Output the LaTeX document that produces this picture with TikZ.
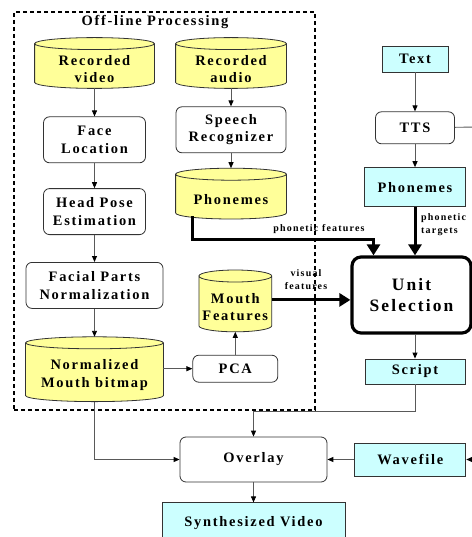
\documentclass[tikz,border=0pt]{standalone}
\usepackage{fontspec}
\usetikzlibrary{arrows.meta, positioning, calc}
\newfontfamily\diafont[LetterSpace=12]{Liberation Serif}
\definecolor{dbyellow}{RGB}{255,255,153}
\definecolor{iocyan}{RGB}{204,255,255}
\pgfdeclarelayer{background}
\pgfsetlayers{background,main}
\tikzset{
    base/.style={draw=black!80, line width=0.8bp, align=center, inner sep=0pt, font=\diafont\bfseries\fontsize{14.5}{17.5}\selectfont},
    proc/.style={base, rounded corners=6bp, fill=white},
    io/.style={base, fill=iocyan},
    store/.style={base, draw=none},
    cylline/.style={draw=black!80, line width=0.8bp},
    arr/.style={draw=black!65, line width=0.9bp, -{Triangle[length=6bp,width=5bp,color=black]}},
    link/.style={draw=black!65, line width=0.9bp},
    bigarr/.style={draw=black, line width=3bp, -{Triangle[length=11bp,width=13bp]}},
    lab/.style={font=\diafont\bfseries\fontsize{10}{13}\selectfont, align=left, inner sep=0pt}
}

\begin{document}
\begin{tikzpicture}[x=1bp, y=-1bp]
    \useasboundingbox (0,0) rectangle (472,537);
    \node[draw, line width=1.3bp, dash pattern=on 4bp off 3bp, minimum width=301bp, minimum height=398bp] (OFF) at (164.5,211) {};
    \node[lab, font=\diafont\bfseries\fontsize{14.5}{17.5}\selectfont] (OFFt) at (155,22) {Off-line Processing};
    \node[store, minimum width=119bp, minimum height=38bp] (V) at (94.5,69) {Recorded\\video};
    \node[proc, minimum width=102bp, minimum height=46bp, below=28bp of V] (FL) {Face\\Location};
    \node[proc, minimum width=102bp, minimum height=46bp, below=25bp of FL] (HP) {Head Pose\\Estimation};
    \node[proc, minimum width=137bp, minimum height=46bp, below=27bp of HP] (FP) {Facial Parts\\Normalization};
    \node[store, minimum width=137bp, minimum height=52bp, below=40bp of FP] (NM) {Normalized\\Mouth bitmap};
    \node[proc, minimum width=85bp, minimum height=27bp, right=29bp of NM.south east, anchor=south west, yshift=19bp] (PCA) {PCA};
    \node[store, minimum width=72bp, minimum height=49bp, above=23bp of PCA] (MF) {Mouth\\Features};
    \node[store, minimum width=110bp, minimum height=38bp] (A) at (231,69) {Recorded\\audio};
    \node[proc, minimum width=110bp, minimum height=46bp, below=18bp of A] (SR) {Speech\\Recognizer};
    \node[store, minimum width=110bp, minimum height=38bp, below=27bp of SR] (Ph) {Phonemes};
    \node[io, minimum width=66bp, minimum height=26bp] (T) at (415,59) {Text};
    \node[proc, minimum width=79bp, minimum height=32bp, below=39bp of T] (TTS) {TTS};
    \node[io, minimum width=101bp, minimum height=39bp, below=23bp of TTS] (Ph2) {Phonemes};
    \node[proc, line width=3.2bp, draw=black, rounded corners=9bp, minimum width=119bp, minimum height=76bp, font=\diafont\bfseries\fontsize{17.5}{21}\selectfont] (US) at (411.5,295) {Unit\\Selection};
    \node[io, minimum width=100bp, minimum height=25bp, below=24bp of US, xshift=3.5bp] (S) {Script};
    \node[proc, minimum width=147bp, minimum height=45bp] (O) at (253.5,459.5) {Overlay};
    \node[io, minimum width=111bp, minimum height=33bp, right=27bp of O] (W) {Wavefile};
    \node[io, minimum width=183bp, minimum height=40bp, below=20bp of O] (SV) {Synthesized Video};
    \begin{pgfonlayer}{background}
      \foreach \nm in {V,A,Ph,NM,MF} {
        \fill[dbyellow] let \p1=(\nm.north west), \p2=(\nm.south east) in
          ([yshift=6bp]\nm.north west) -- ([yshift=6bp]\nm.south west)
          arc[start angle=180, end angle=360, x radius={(\x2-\x1)/2}, y radius=6bp]
          -- ([yshift=6bp]\nm.north east)
          arc[start angle=0, end angle=180, x radius={(\x2-\x1)/2}, y radius=6bp] -- cycle;
        \draw[cylline] let \p1=(\nm.north west), \p2=(\nm.south east) in
          ([yshift=6bp]\nm.north west) -- ([yshift=6bp]\nm.south west)
          arc[start angle=180, end angle=360, x radius={(\x2-\x1)/2}, y radius=6bp]
          -- ([yshift=6bp]\nm.north east)
          arc[start angle=0, end angle=180, x radius={(\x2-\x1)/2}, y radius=6bp]
          arc[start angle=180, end angle=360, x radius={(\x2-\x1)/2}, y radius=6bp];
      }
    \end{pgfonlayer}
    \coordinate (TTSout) at (480,127);
    \coordinate (Win) at (480,459.5);
    \foreach \a/\b in {V/FL,FL/HP,HP/FP,A/SR,PCA/MF,T/TTS,TTS/Ph2,W/O,O/SV}
      \draw[arr] (\a) -- (\b);
    \draw[arr] (FP) -- ([yshift=12bp]NM.north);
    \draw[arr] (SR) -- ([yshift=12bp]Ph.north);
    \draw[arr] (NM.east |- PCA.west) -- (PCA.west);
    \draw[arr] (US.south -| S) -- (S);
    \draw[arr] (S) -- ++(0,40) -| (O);
    \draw[arr] (NM) |- (O);
    \draw[arr] (Win) -- (W);
    \draw[link] (TTS) -- (TTSout);
    \draw[bigarr] ([xshift=-39bp,yshift=3bp]Ph.south) -- ++(0,23) -| ([xshift=-38bp]US.north);
    \draw[bigarr] (Ph2) -- (Ph2 |- US.north);
    \draw[bigarr] ([yshift=7bp]MF.east) -- ([yshift=7bp]MF.east -| US.west);
    \node[lab, anchor=south] (pf) at (319,234) {phonetic features};
    \node[lab, anchor=west] (pt) at (421,225) {phonetic\\targets};
    \node[lab, align=center] (vf) at (306,280) {visual\\features};
\end{tikzpicture}
\end{document}
